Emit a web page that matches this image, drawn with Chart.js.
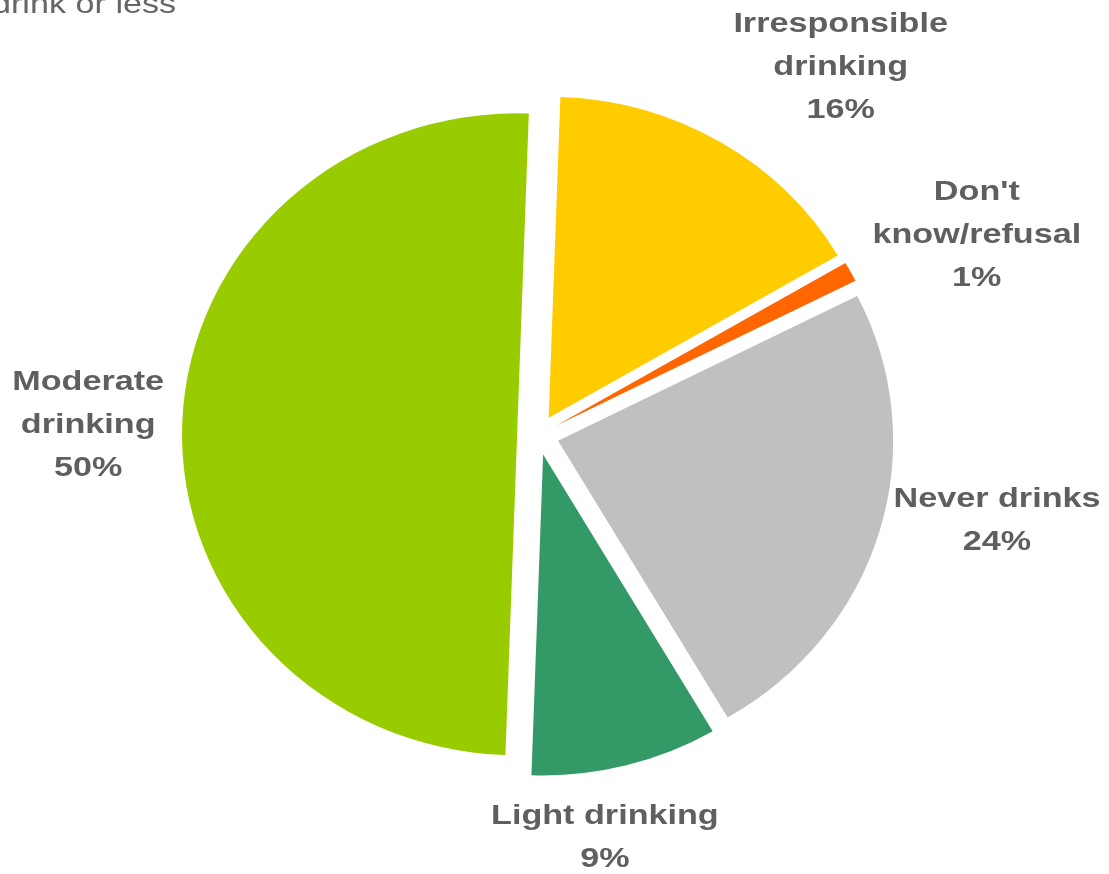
<!DOCTYPE html>
<html>
<head>
<meta charset="utf-8">
<script src="https://cdn.jsdelivr.net/npm/chart.js@4/dist/chart.umd.min.js"></script>
<style>
  html, body { margin: 0; padding: 0; background: #ffffff; }
  #wrap { position: relative; width: 1109px; height: 874px; overflow: hidden; }
</style>
</head>
<body>
<div id="wrap"><canvas id="pie"></canvas></div>
<script>
// Drinking behaviour shares, clockwise from the top
const categories = [
    ['Irresponsible', 'drinking'],
    ["Don't", 'know/refusal'],
    ['Never drinks'],
    ['Light drinking'],
    ['Moderate', 'drinking']
];
const shares = [16, 1, 24, 9, 50];
const colours = ['#FFCC00', '#FF6600', '#C0C0C0', '#339966', '#99CC00'];
const subtitle = 'drink or less';

const TEXT_GREY = '#5F5F5F';
const STRETCH = 1.22;   // labels are set wide
const PIE_SX = 1.044;   // pie is drawn slightly wider than tall
const EXPLODE = 20;     // every slice pulled out by the same distance

// hand-placed label adjustments (px)
const labelShift = [[68, 12], [-2, 33], [-12, -48], [-38, 4], [9, 6]];

function wideText(ctx, str, x, y) {
    ctx.save();
    ctx.translate(x, y);
    ctx.scale(STRETCH, 1);
    ctx.fillText(str, 0, 0);
    ctx.restore();
}

// draws the arcs ourselves so each one is moved out without being resized
const explodedPie = {
    id: 'explodedPie',
    beforeDatasetDraw(chart, args) {
        const ctx = chart.ctx;
        const cx = (chart.chartArea.left + chart.chartArea.right) / 2;
        ctx.save();
        ctx.translate(cx, 0);
        ctx.scale(PIE_SX, 1);
        ctx.translate(-cx, 0);
        args.meta.data.forEach(arc => {
            const mid = (arc.startAngle + arc.endAngle) / 2;
            ctx.save();
            ctx.translate(Math.cos(mid) * EXPLODE, Math.sin(mid) * EXPLODE);
            arc.draw(ctx, chart.chartArea);
            ctx.restore();
        });
        ctx.restore();
        return false;
    }
};

const outsideLabels = {
    id: 'outsideLabels',
    afterDatasetsDraw(chart) {
        const ctx = chart.ctx;
        const meta = chart.getDatasetMeta(0);
        const lineH = 43;
        ctx.save();
        ctx.fillStyle = TEXT_GREY;
        ctx.font = 'bold 28px "Liberation Sans", Arial, sans-serif';
        ctx.textAlign = 'center';
        ctx.textBaseline = 'middle';
        meta.data.forEach((arc, i) => {
            const lines = categories[i].concat([shares[i] + '%']);
            const w = Math.max(...lines.map(l => ctx.measureText(l).width)) * STRETCH;
            const h = lines.length * lineH;
            const mid = (arc.startAngle + arc.endAngle) / 2;
            const dx = Math.cos(mid), dy = Math.sin(mid);
            const r = arc.outerRadius + EXPLODE + 26;
            const px = arc.x + dx * r * PIE_SX, py = arc.y + dy * r;
            const t = Math.min(w / 2 / Math.max(Math.abs(dx), 1e-6), h / 2 / Math.max(Math.abs(dy), 1e-6));
            const cx = px + dx * t + labelShift[i][0];
            const cy = py + dy * t + labelShift[i][1];
            lines.forEach((l, j) => {
                wideText(ctx, l, cx, cy - h / 2 + lineH * (j + 0.5));
            });
        });
        // subtitle line left over from the slide above the chart
        ctx.font = '28px "Liberation Sans", Arial, sans-serif';
        ctx.textAlign = 'left';
        ctx.textBaseline = 'alphabetic';
        ctx.fillStyle = '#666666';
        wideText(ctx, subtitle, -8, 13);
        ctx.restore();
    }
};

new Chart(document.getElementById('pie'), {
    type: 'pie',
    data: {
        labels: categories.map(c => c.join(' ')),
        datasets: [{
            data: shares,
            backgroundColor: colours,
            borderWidth: 0
        }]
    },
    options: {
        responsive: true,
        maintainAspectRatio: false,
        animation: false,
        rotation: 2,
        layout: { padding: { left: 138, right: 171, top: 114, bottom: 118 } },
        plugins: {
            legend: { display: false },
            tooltip: { enabled: false }
        }
    },
    plugins: [explodedPie, outsideLabels]
});
</script>
</body>
</html>
